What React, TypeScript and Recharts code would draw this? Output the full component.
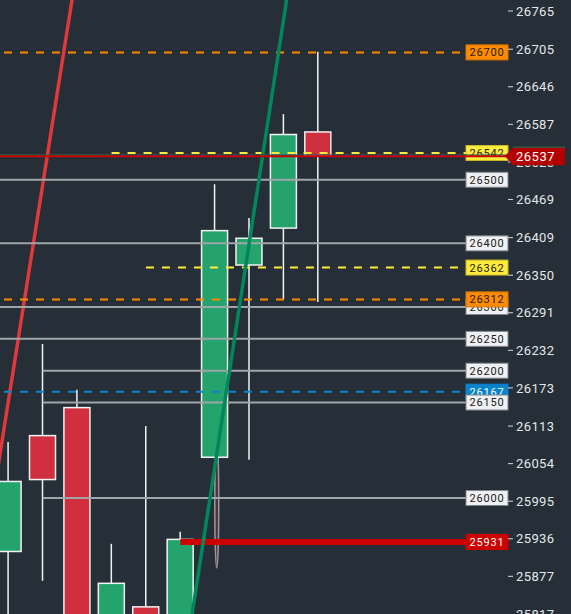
import React from 'react';
import { Bar, ComposedChart, ReferenceArea, ReferenceLine, XAxis, YAxis } from 'recharts';

// candles (oldest -> newest), remaining slots are empty space to the right
const slots = [0, 1, 2, 3, 4, 5, 6, 7, 8, 9, 10, 11, 12, 13, 14];
const opens = [25916, 26098, 26142, 25790, 25829, 25790, 26064, 26366, 26424, 26575];
const closes = [26026, 26029, 25790, 25866, 25795, 25935, 26420, 26408, 26571, 26537];
const highs = [26088, 26242, 26170, 25928, 26113, 25947, 26493, 26440, 26603, 26701];
const lows = [25790, 25870, 25780, 25780, 25785, 25780, 26064, 26060, 26312, 26308];

const priceTicks = [
  26765, 26705, 26646, 26587, 26528, 26469, 26409, 26350, 26291, 26232, 26173, 26113, 26054, 25995, 25936,
  25877, 25817,
];
const priceDomain = [25817.8, 26782.3];
const slotDomain = [-0.241, 14.52];

// horizontal levels: value, candle it starts from (null = whole width), kind
const levelValues = [26167, 26500, 26400, 26300, 26250, 26200, 26150, 26000, 26700, 26542, 26362, 26312, 25931];
const levelFrom = [null, null, null, null, null, 1, 1, 1, null, 3, 4, null, 5];
const levelKinds = [
  'blue', 'gray', 'gray', 'gray', 'gray', 'gray', 'gray', 'gray', 'orange', 'yellow', 'yellow', 'orange', 'stop',
];
const lastPrice = 26537;
const prevPrice = 26539;

// trend lines [slot, price] pairs
const redTrend = [
  { x: -0.3, y: 26049 },
  { x: 1.9, y: 26799 },
];
const greenTrend = [
  { x: 5.28, y: 25796 },
  { x: 8.14, y: 26801 },
];
// narrow ellipse marker
const markerX = [6.0, 6.115];
const markerY = [25890, 26092];

const BG = '#262f37';
const UP = '#25a36d';
const DOWN = '#d02f3d';

const kindStyle: Record<string, any> = {
  gray: { stroke: '#a0a5a9', width: 2, dash: undefined, fill: '#eef0f2', border: '#80868b', text: '#222' },
  blue: { stroke: '#0a84cc', width: 2, dash: '8 8', fill: '#0a84cc', border: '#0a84cc', text: '#fff' },
  orange: { stroke: '#ff8c00', width: 2, dash: '8 8', fill: '#ff8c00', border: '#d97400', text: '#1a1a1a' },
  yellow: { stroke: '#ffeb3b', width: 2, dash: '8 8', fill: '#ffeb3b', border: '#c9b82a', text: '#1a1a1a' },
  stop: { stroke: '#cc0000', width: 6, dash: undefined, fill: '#cc0000', border: '#cc0000', text: '#fff' },
};

const candleData = slots.map((slot, i) =>
  i < opens.length
    ? { slot, open: opens[i], close: closes[i], high: highs[i], low: lows[i], range: [lows[i], highs[i]] }
    : { slot, range: null },
);

const Candle = (props: any) => {
  const { x, y, width, height, payload } = props;
  if (!payload || payload.open == null) return null;
  const { open, close, high, low } = payload;
  const k = height / (high - low);
  const py = (v: number) => y + (high - v) * k;
  const cx = x + width / 2;
  const top = py(Math.max(open, close));
  const bottom = py(Math.min(open, close));
  return (
    <g>
      <line x1={cx} x2={cx} y1={py(high)} y2={py(low)} stroke="#f2f2f2" strokeWidth={1.5} />
      <rect
        x={x}
        y={top}
        width={width}
        height={Math.max(bottom - top, 1)}
        fill={close >= open ? UP : DOWN}
        stroke="#f2f2f2"
        strokeWidth={1.5}
      />
    </g>
  );
};

const TagLabel = (props: any) => {
  const { viewBox, text, s } = props;
  if (!viewBox) return null;
  const right = viewBox.x + viewBox.width;
  const cy = viewBox.y + viewBox.height / 2;
  return (
    <g>
      <rect x={right - 42} y={cy - 7.5} width={42} height={15} fill={s.fill} stroke={s.border} strokeWidth={1} />
      <text
        x={right - 21}
        y={cy}
        dy="0.36em"
        textAnchor="middle"
        fontSize={11}
        letterSpacing={0.8}
        fontFamily="Roboto"
        fill={s.text}
      >
        {text}
      </text>
    </g>
  );
};

// axis tick; the last price is drawn as a red arrow tag on top of the other ticks
const PriceTick = (props: any) => {
  const { x, y, payload } = props;
  const value = payload?.value;
  if (value === lastPrice) {
    const pts = `${x - 11},${y} ${x - 3},${y - 9} ${x + 49},${y - 9} ${x + 49},${y + 9} ${x - 3},${y + 9}`;
    return (
      <g>
        <polygon points={pts} fill="#b30000" />
        <line x1={x - 3} x2={x + 49} y1={y - 9} y2={y - 9} stroke="#1f7a52" strokeWidth={1} />
        <text x={x} y={y} dy="0.36em" fontSize={13} letterSpacing={0.5} fontFamily="Roboto" fill="#fff">
          {value}
        </text>
      </g>
    );
  }
  return (
    <text x={x} y={y} dy="0.36em" fontSize={13} letterSpacing={0.4} fontFamily="Roboto" fill="#e3e6e9">
      {value}
    </text>
  );
};

const Ellipse = (props: any) => {
  const { x, y, width, height } = props;
  return (
    <ellipse
      cx={x + width / 2}
      cy={y + height / 2}
      rx={width / 2}
      ry={height / 2}
      fill="#4a3338"
      stroke="rgba(205,205,205,0.65)"
      strokeWidth={1.5}
    />
  );
};

export default function App() {
  return (
    <div style={{ position: 'fixed', left: 0, top: 0, width: 571, height: 614, background: BG }}>
      <ComposedChart width={571} height={614} data={candleData} margin={{ top: 0, right: 0, bottom: 0, left: 0 }}>
        <XAxis
          type="number"
          dataKey="slot"
          domain={slotDomain}
          ticks={slots}
          allowDataOverflow
          hide
        />
        <YAxis
          orientation="right"
          width={63}
          domain={priceDomain}
          ticks={[...priceTicks, lastPrice]}
          interval={0}
          allowDataOverflow
          axisLine={false}
          tickSize={5}
          tickMargin={3}
          tickLine={{ stroke: '#d6d9dc' }}
          tick={<PriceTick />}
        />
        <Bar dataKey="range" barSize={26} shape={<Candle />} isAnimationActive={false} />
        <ReferenceLine segment={redTrend} stroke="#e0383d" strokeWidth={3.5} ifOverflow="hidden" />
        {levelValues.map((v, i) => {
          const s = kindStyle[levelKinds[i]];
          const from = levelFrom[i];
          const common = {
            stroke: s.stroke,
            strokeWidth: s.width,
            strokeDasharray: s.dash,
            ifOverflow: 'visible' as const,
            label: <TagLabel text={String(v)} s={s} />,
          };
          return from == null ? (
            <ReferenceLine key={v} y={v} {...common} />
          ) : (
            <ReferenceLine
              key={v}
              segment={[
                { x: from, y: v },
                { x: slotDomain[1], y: v },
              ]}
              {...common}
            />
          );
        })}
        <ReferenceLine segment={greenTrend} stroke="#00875c" strokeWidth={3.5} ifOverflow="hidden" />
        <ReferenceLine y={prevPrice} stroke="#2b6a55" strokeWidth={1} ifOverflow="visible" />
        <ReferenceLine y={lastPrice} stroke="#c40000" strokeWidth={2} ifOverflow="visible" />
        <ReferenceArea
          x1={markerX[0]}
          x2={markerX[1]}
          y1={markerY[0]}
          y2={markerY[1]}
          shape={<Ellipse />}
          ifOverflow="visible"
        />
      </ComposedChart>
    </div>
  );
}
